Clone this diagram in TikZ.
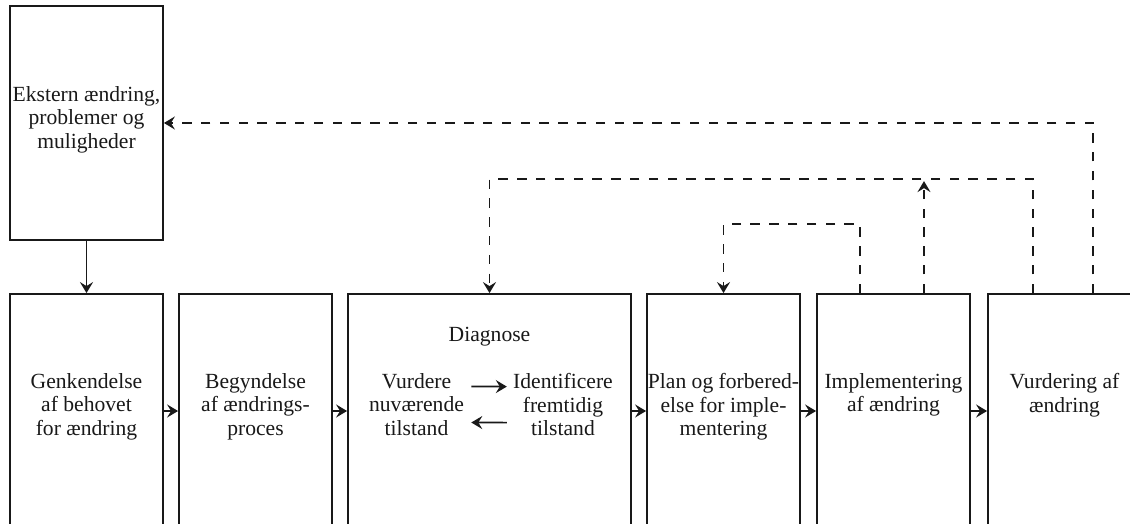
\documentclass[tikz,border=0pt]{standalone}
\usepackage{fontspec}
\setmainfont{Liberation Serif}
\usetikzlibrary{arrows.meta}
\begin{document}
\begin{tikzpicture}[x=0.5pt,y=-0.5pt,
  box/.style={draw=black!90, line width=0.9pt, minimum width=76.5pt, minimum height=117pt, inner sep=0pt},
  txt/.style={align=center, font=\fontsize{10.8}{11.75}\selectfont, inner sep=0pt, anchor=north, text=black!90},
  arr/.style={draw=black!90, line width=0.85pt, -{Stealth[length=5.5pt,width=6.5pt,inset=2pt]}},
  dsh/.style={dash pattern=on 4.7pt off 4.7pt}
]
\useasboundingbox (0,0) rectangle (1130,524);
\clip (0,0) rectangle (1130,524);
% boxes
\node[box] (ext) at (86.5,123) {};
\node[box] (b1) at (86.5,411) {};
\node[box] (b2) at (255.5,411) {};
\node[box, minimum width=141.5pt] (b3) at (489.5,411) {};
\node[box] (b4) at (723.5,411) {};
\node[box] (b5) at (893.5,411) {};
\node[box] (b6) at (1064.5,411) {};
% texts
\node[txt] (t0) at (86.5,86) {Ekstern ændring,\\problemer og\\muligheder};
\node[txt] (t1) at (86.5,373) {Genkendelse\\af behovet\\for ændring};
\node[txt] (t2) at (255.5,373) {Begyndelse\\af ændrings-\\proces};
\node[txt] (t3) at (489.5,327) {Diagnose};
\node[txt] (vur) at (416.5,373) {Vurdere\\nuværende\\tilstand};
\node[txt] (idf) at (563,373) {Identificere\\fremtidig\\tilstand};
\node[txt] (t4) at (723.5,373) {Plan og forbered-\\else for imple-\\mentering};
\node[txt] (t5) at (893.5,373) {Implementering\\af ændring};
\node[txt] (t6) at (1064.5,373) {Vurdering af\\ændring};
% inner diagnose arrows
\draw[arr] ([xshift=3.5pt,yshift=9pt]vur.east) -- ([xshift=-3pt,yshift=9pt]idf.west);
\draw[arr] ([xshift=-3pt,yshift=-9pt]idf.west) -- ([xshift=3.5pt,yshift=-9pt]vur.east);
% solid connectors
\draw[arr] (ext.south) -- (b1.north);
\draw[arr] (b1.east) -- (b2.west);
\draw[arr] (b2.east) -- (b3.west);
\draw[arr] (b3.east) -- (b4.west);
\draw[arr] (b4.east) -- (b5.west);
\draw[arr] (b5.east) -- (b6.west);
% dashed feedback connectors
\draw[arr,dsh] ([xshift=14.25pt]b6.north) |- (ext.east);
\draw[arr,dsh] ([xshift=-15.75pt]b6.north) -- ++(0,-114) -| (b3.north);
\draw[arr,dsh] ([xshift=15.25pt]b5.north) -- ++(0,-112);
\draw[arr,dsh] ([xshift=-16.75pt]b5.north) -- ++(0,-69) -| (b4.north);
\end{tikzpicture}
\end{document}
